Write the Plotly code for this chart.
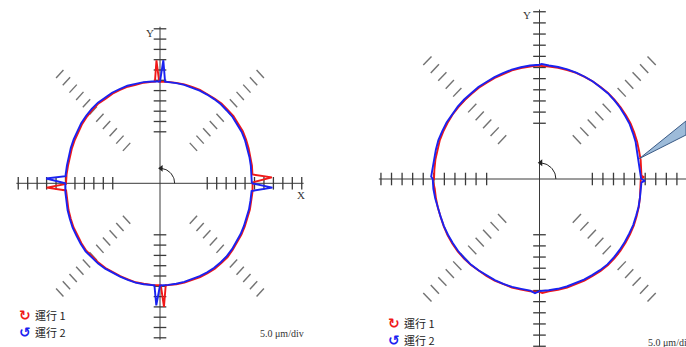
import numpy as np
import plotly.graph_objects as go

# ---------------- data (radius in divisions, 5.0 um/div, nominal radius 10 div) --------------
BASE_ANG = list(range(0, 360, 5))

# left panel (with reversal spikes)
L_RED_R = [9.80, 9.82, 9.88, 9.90, 9.98, 10.05, 10.12, 10.10, 10.15, 10.10, 10.12, 10.05,
           10.02, 10.00, 9.95, 9.95, 9.90, 9.88,
           9.85, 9.88, 9.92, 9.90, 9.98, 10.00, 10.05, 10.02, 10.12, 10.10, 10.08, 10.05,
           10.00, 9.95, 9.92, 9.90, 9.88, 9.92,
           9.95, 9.95, 9.98, 10.02, 10.05, 10.10, 10.08, 10.15, 10.18, 10.12, 10.08, 10.05,
           9.98, 9.95, 9.92, 9.95, 9.90, 9.90,
           9.90, 9.92, 9.95, 9.98, 10.00, 10.05, 10.08, 10.12, 10.10, 10.12, 10.05, 10.00,
           9.95, 9.90, 9.85, 9.85, 9.80, 9.82]
L_BLUE_R = [9.72, 9.72, 9.76, 9.80, 9.86, 9.92, 9.98, 10.00, 10.02, 10.00, 10.02, 9.98,
            9.95, 9.92, 9.90, 9.90, 9.88, 9.88,
            9.88, 9.92, 9.98, 10.00, 10.08, 10.10, 10.15, 10.15, 10.22, 10.22, 10.20, 10.18,
            10.12, 10.08, 10.05, 10.02, 10.00, 10.02,
            10.02, 10.05, 10.08, 10.12, 10.15, 10.20, 10.20, 10.25, 10.28, 10.22, 10.18, 10.12,
            10.05, 10.00, 9.98, 9.98, 9.95, 9.92,
            9.92, 9.90, 9.90, 9.90, 9.92, 9.95, 9.98, 10.00, 10.00, 10.00, 9.95, 9.90,
            9.85, 9.80, 9.76, 9.75, 9.72, 9.72]
L_RED_SPK_ANG = [0.5, 2.8, 4.9, 90.5, 91.8, 93.1, 180.4, 182.0, 184.0, 270.5, 272.0, 273.5]
L_RED_SPK_R = [9.80, 11.85, 9.84, 9.85, 11.95, 9.88, 9.95, 12.00, 9.96, 9.90, 12.00, 9.91]
L_BLUE_SPK_ANG = [355.6, 358.0, 359.6, 86.9, 88.3, 89.6, 176.0, 177.8, 179.6, 266.6, 268.1, 269.6]
L_BLUE_SPK_R = [9.72, 11.90, 9.72, 9.88, 11.95, 9.88, 10.02, 12.05, 10.02, 9.92, 11.85, 9.92]

# right panel
R_RED_R = [9.58, 9.68, 9.72, 9.75, 9.82, 9.88, 9.95, 9.98, 10.02, 10.05, 10.08, 10.08,
           10.10, 10.10, 10.12, 10.12, 10.12, 10.12,
           10.12, 10.12, 10.10, 10.08, 10.02, 10.00, 9.98, 10.00, 9.98, 10.00, 10.02, 10.05,
           10.05, 10.05, 10.05, 10.02, 10.00, 9.98,
           9.98, 9.95, 9.95, 9.95, 9.95, 10.00, 10.05, 10.08, 10.10, 10.10, 10.08, 10.05,
           10.05, 10.05, 10.05, 10.08, 10.08, 10.10,
           10.12, 10.12, 10.10, 10.08, 10.05, 10.05, 10.05, 10.08, 10.08, 10.05, 10.00, 9.95,
           9.90, 9.85, 9.78, 9.72, 9.65, 9.60]
R_BLUE_R = [9.62, 9.55, 9.50, 9.55, 9.68, 9.75, 9.85, 9.88, 9.95, 10.00, 10.05, 10.05,
            10.10, 10.12, 10.15, 10.18, 10.20, 10.22,
            10.25, 10.22, 10.18, 10.15, 10.10, 10.08, 10.05, 10.08, 10.05, 10.08, 10.10, 10.12,
            10.15, 10.15, 10.18, 10.15, 10.12, 10.12,
            10.10, 10.08, 10.02, 9.98, 9.95, 9.98, 10.00, 10.02, 10.05, 10.05, 10.05, 10.02,
            10.00, 10.00, 10.00, 10.02, 10.00, 10.05,
            10.05, 10.02, 10.00, 9.98, 9.95, 9.95, 9.95, 9.98, 10.00, 9.95, 9.90, 9.85,
            9.80, 9.78, 9.72, 9.70, 9.65, 9.65]
R_RED_SPK_ANG = [1.0, 1.8, 91.5, 271.5, 181.0]
R_RED_SPK_R = [9.85, 9.65, 10.18, 10.22, 10.08]
R_BLUE_SPK_ANG = [358.2, 359.0, 88.8, 178.8, 267.6]
R_BLUE_SPK_R = [9.65, 9.98, 10.32, 10.25, 10.25]

TICK_DIVS = list(range(5, 16))          # tick marks at 5..15 divisions from centre
AXIS_END = 15.2
SCALE_TEXT = "5.0 μm/div"
RUN_LABELS = ["運行 1", "運行 2"]
RED = "#f01818"
BLUE = "#1a22f0"

# ---------------- geometry of the two panels (pixels) -----------------
W, H = 686, 347
PANELS = [
    dict(xd=(0, 343), cx=160.0, cy=183.3, sx=9.45, sy=10.3),
    dict(xd=(343, 686), cx=539.5, cy=179.0, sx=10.57, sy=11.15),
]


def merge(base_a, base_r, spk_a, spk_r):
    a = np.array(list(base_a) + list(spk_a), float)
    r = np.array(list(base_r) + list(spk_r), float)
    o = np.argsort(a)
    a, r = a[o], r[o]
    a = np.append(a, a[0] + 360)
    r = np.append(r, r[0])
    t = np.radians(a)
    return r * np.cos(t), r * np.sin(t)


fig = go.Figure()
layout_axes = {}
for i, p in enumerate(PANELS):
    sfx = "" if i == 0 else str(i + 1)
    xa, ya = "x" + sfx, "y" + sfx
    x0 = (p["xd"][0] - p["cx"]) / p["sx"]
    x1 = (p["xd"][1] - p["cx"]) / p["sx"]
    y1 = p["cy"] / p["sy"]
    y0 = -(H - p["cy"]) / p["sy"]
    layout_axes["xaxis" + sfx] = dict(domain=[p["xd"][0] / W, p["xd"][1] / W], range=[x0, x1],
                                      visible=False, fixedrange=True, anchor=ya)
    layout_axes["yaxis" + sfx] = dict(domain=[0, 1], range=[y0, y1], visible=False,
                                      fixedrange=True, anchor=xa)
    p["xa"], p["ya"] = xa, ya

    # axis lines
    fig.add_trace(go.Scatter(x=[-AXIS_END, AXIS_END, None, 0, 0],
                             y=[0, 0, None, -AXIS_END, AXIS_END], mode="lines",
                             line=dict(color="#3a3a3a", width=1), xaxis=xa, yaxis=ya,
                             hoverinfo="skip", showlegend=False))
    # axis tick marks
    hx = 6.3 / p["sx"]
    hy = 6.3 / p["sy"]
    tx, ty = [], []
    for d in TICK_DIVS:
        for s in (-1, 1):
            tx += [s * d, s * d, None]
            ty += [-hy, hy, None]
            tx += [-hx, hx, None]
            ty += [s * d, s * d, None]
    fig.add_trace(go.Scatter(x=tx, y=ty, mode="lines", line=dict(color="#3a3a3a", width=1.3),
                             xaxis=xa, yaxis=ya, hoverinfo="skip", showlegend=False))
    # diagonal tick marks
    dx, dy = [], []
    h = 0.55
    for ang in (45, 135, 225, 315):
        t = np.radians(ang)
        for d in TICK_DIVS:
            cxp, cyp = d * np.cos(t), d * np.sin(t)
            dx += [cxp - h * np.sin(t), cxp + h * np.sin(t), None]
            dy += [cyp + h * np.cos(t), cyp - h * np.cos(t), None]
    fig.add_trace(go.Scatter(x=dx, y=dy, mode="lines", line=dict(color="#727272", width=1.4),
                             xaxis=xa, yaxis=ya, hoverinfo="skip", showlegend=False))
    # angle arrow
    th = np.radians(np.linspace(0, 84, 20))
    fig.add_trace(go.Scatter(x=1.55 * np.cos(th), y=1.45 * np.sin(th), mode="lines",
                             line=dict(color="#222", width=1), xaxis=xa, yaxis=ya,
                             hoverinfo="skip", showlegend=False))
    fig.add_trace(go.Scatter(x=[0.12], y=[1.45], mode="markers",
                             marker=dict(symbol="triangle-left", size=6, color="#222"),
                             xaxis=xa, yaxis=ya, hoverinfo="skip", showlegend=False))

# run curves
curves = [
    (0, L_RED_R, L_RED_SPK_ANG, L_RED_SPK_R, RED),
    (0, L_BLUE_R, L_BLUE_SPK_ANG, L_BLUE_SPK_R, BLUE),
    (1, R_RED_R, R_RED_SPK_ANG, R_RED_SPK_R, RED),
    (1, R_BLUE_R, R_BLUE_SPK_ANG, R_BLUE_SPK_R, BLUE),
]
for pi, rr, sa, sr, col in curves:
    p = PANELS[pi]
    x, y = merge(BASE_ANG, rr, sa, sr)
    fig.add_trace(go.Scatter(x=x, y=y, mode="lines", line=dict(color=col, width=1.9),
                             xaxis=p["xa"], yaxis=p["ya"], hoverinfo="skip", showlegend=False))

ann = []
def px_ann(px, py, text, xanchor="center", **kw):
    d = dict(x=px / W, y=1 - py / H, xref="paper", yref="paper", text=text, showarrow=False,
             xanchor=xanchor, yanchor="middle")
    d.update(kw)
    ann.append(d)

SERIF = "Liberation Serif"
CJK = "Noto Sans CJK TC"
# axis letters
px_ann(150, 33, "Y", font=dict(family=SERIF, size=11, color="#333"))
px_ann(301, 195, "X", font=dict(family=SERIF, size=11, color="#333"))
px_ann(526.5, 15, "Y", font=dict(family=SERIF, size=11, color="#333"))
# legends
for (lx, ly) in [(33, 315), (402, 323)]:
    for k, (lab, col, sym) in enumerate(zip(RUN_LABELS, [RED, BLUE], ["↻", "↺"])):
        yy = ly + k * 16.5
        px_ann(lx, yy, "<b>" + sym + "</b>", xanchor="right",
               font=dict(family="DejaVu Sans", size=14, color=col))
        px_ann(lx, yy, lab, xanchor="left", font=dict(family=CJK, size=11, color="#222"))
# scale labels
px_ann(258, 333, SCALE_TEXT, xanchor="left", font=dict(family=SERIF, size=10, color="#333"))
px_ann(646, 342, SCALE_TEXT, xanchor="left", font=dict(family=SERIF, size=10, color="#333"))

shapes = [dict(type="path", xref="paper", yref="paper",
               path="M {:.4f},{:.4f} L {:.4f},{:.4f} L {:.4f},{:.4f} Z".format(
                   639.5 / W, 1 - 158.5 / H, 1.0, 1 - 121 / H, 1.0, 1 - 135 / H),
               fillcolor="#9dbbd9", line=dict(color="#3a5a85", width=1))]

fig.update_layout(width=W, height=H, margin=dict(l=0, r=0, t=0, b=0),
                  paper_bgcolor="white", plot_bgcolor="white", showlegend=False,
                  annotations=ann, shapes=shapes, **layout_axes)
fig.write_html("out.html", config={"displayModeBar": False},
               post_script="document.body.style.margin='0';")
